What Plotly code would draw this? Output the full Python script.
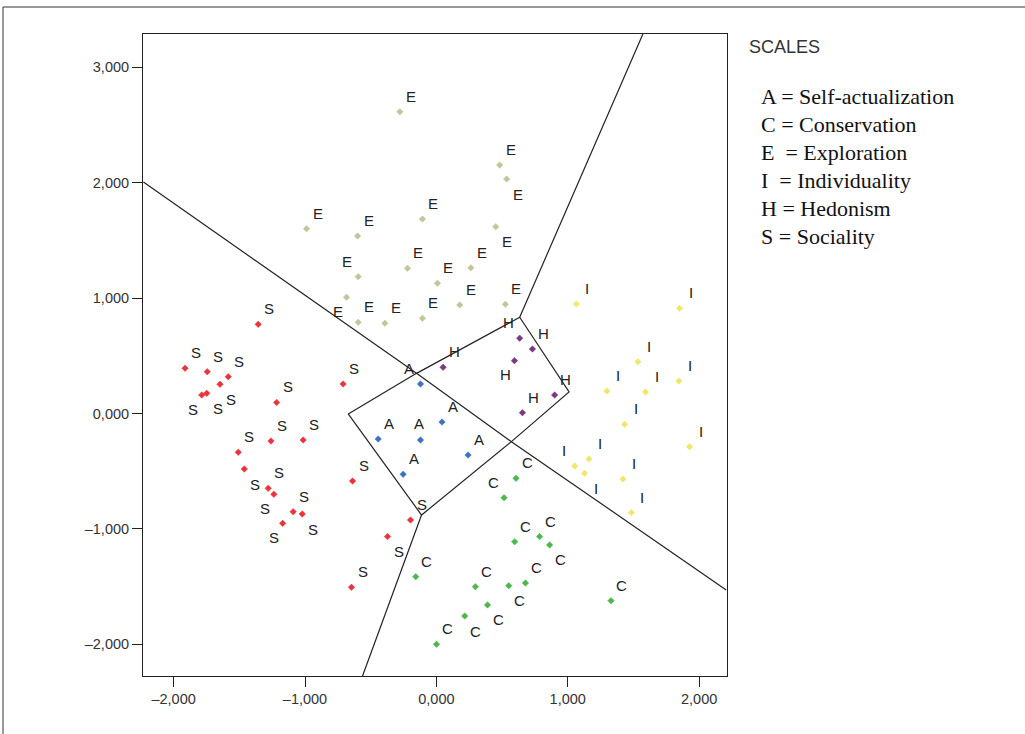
import plotly.graph_objects as go

# ---------------- data (thousands, comma-decimal ticks) ----------------
E_x = [-0.278, -0.988, -0.600, -0.106, 0.482, 0.535, 0.452, -0.595, -0.220, -0.684,
       -0.595, -0.392, -0.106, 0.008, 0.262, 0.178, 0.525]
E_y = [2.615, 1.601, 1.538, 1.685, 2.153, 2.032, 1.619, 1.186, 1.258, 1.007,
       0.790, 0.782, 0.825, 1.128, 1.263, 0.940, 0.946]
E_pos = ["tr", "tr", "tr", "tr", "tr", "br", "br", "tl", "tr", "bl",
         "tr", "tr", "tr", "tr", "tr", "tr", "tr"]

H_x = [0.051, 0.634, 0.731, 0.594, 0.900, 0.655]
H_y = [0.400, 0.652, 0.559, 0.458, 0.160, 0.007]
H_pos = ["tr", "tl", "tr", "bl", "tr", "tr"]

A_x = [-0.121, 0.043, -0.121, -0.443, 0.241, -0.253]
A_y = [0.256, -0.074, -0.230, -0.221, -0.360, -0.527]
A_pos = ["tl", "tr", "tc", "tr", "tr", "tr"]

I_x = [1.065, 1.851, 1.534, 1.846, 1.298, 1.592, 1.433, 1.927, 1.052, 1.161, 1.128, 1.420, 1.484]
I_y = [0.949, 0.912, 0.449, 0.282, 0.195, 0.186, -0.094, -0.288, -0.455, -0.394, -0.518, -0.568, -0.859]
I_pos = ["tr", "tr", "tr", "tr", "tr", "tr", "tr", "tr", "tl", "tr", "br", "tr", "tr"]

C_x = [0.606, 0.515, -0.157, 0.596, 0.786, 0.862, 0.297, 0.551, 0.678, 0.389, 0.216, 0.001, 1.329]
C_y = [-0.562, -0.730, -1.414, -1.111, -1.067, -1.139, -1.501, -1.492, -1.469, -1.659, -1.755, -2.000, -1.622]
C_pos = ["tr", "tl", "tr", "tr", "tr", "br", "tr", "br", "tr", "br", "br", "tr", "tr"]

S_x = [-1.356, -1.913, -1.744, -1.584, -1.647, -1.748, -1.786, -1.216, -0.710, -1.259, -1.014,
       -1.508, -1.462, -1.280, -1.237, -1.090, -1.021, -1.170, -0.638, -0.197, -0.372, -0.646]
S_y = [0.773, 0.392, 0.362, 0.319, 0.253, 0.175, 0.160, 0.096, 0.256, -0.238, -0.230,
       -0.336, -0.481, -0.648, -0.700, -0.851, -0.871, -0.952, -0.585, -0.923, -1.067, -1.506]
S_pos = ["tr", "tr", "tr", "tr", "br", "br", "bl", "tr", "tr", "tr", "tr",
         "tr", "br", "tr", "bl", "tr", "br", "bl", "tr", "tr", "br", "tr"]

# territorial map boundaries (polyline vertices)
line1_x = [-2.230, -0.151, 0.571, 2.206]
line1_y = [2.006, 0.348, -0.244, -1.529]
line2_x = [-0.671, -0.151, 0.634, 1.572]
line2_y = [-0.004, 0.348, 0.834, 3.289]
line3_x = [0.634, 1.010, 0.571, -0.113, -0.671]
line3_y = [0.834, 0.187, -0.244, -0.880, -0.004]
line4_x = [-0.113, -0.562]
line4_y = [-0.880, -2.275]

x_ticks = [-2, -1, 0, 1, 2]
x_ticktext = ["\u20132,000", "\u20131,000", "0,000", "1,000", "2,000"]
y_ticks = [-2, -1, 0, 1, 2, 3]
y_ticktext = ["\u20132,000", "\u20131,000", "0,000", "1,000", "2,000", "3,000"]

legend_title = "SCALES"
legend_lines = ["A = Self-actualization", "C = Conservation", "E  = Exploration",
                "I  = Individuality", "H = Hedonism", "S = Sociality"]

groups = [
    ("E", E_x, E_y, E_pos, "#c2c598"),
    ("H", H_x, H_y, H_pos, "#7b3a7e"),
    ("A", A_x, A_y, A_pos, "#3a74bf"),
    ("I", I_x, I_y, I_pos, "#f0e66a"),
    ("C", C_x, C_y, C_pos, "#4cb84a"),
    ("S", S_x, S_y, S_pos, "#e8343c"),
]

# ---------------- figure ----------------
W, H = 1025, 734
L, R, T, B = 143, 727, 34, 676

fig = go.Figure()

for lx, ly in [(line1_x, line1_y), (line2_x, line2_y), (line3_x, line3_y), (line4_x, line4_y)]:
    fig.add_trace(go.Scatter(x=lx, y=ly, mode="lines",
                             line=dict(color="#222222", width=1.2),
                             hoverinfo="skip", showlegend=False))

offsets = {"tr": (11, 15.5), "tl": (-11, 15.5), "br": (11, -15), "bl": (-9, -14),
           "tc": (-1, 17), "bc": (0, -15)}

annotations = []
for letter, xs, ys, pos, col in groups:
    fig.add_trace(go.Scatter(x=xs, y=ys, mode="markers",
                             marker=dict(symbol="diamond", size=5, color=col,
                                         line=dict(color=col, width=0.5)),
                             name=letter, showlegend=False))
    for xv, yv, p in zip(xs, ys, pos):
        dx, dy = offsets[p]
        annotations.append(dict(x=xv, y=yv, xref="x", yref="y", text=letter,
                                showarrow=False, xanchor="center", yanchor="middle",
                                xshift=dx, yshift=dy,
                                font=dict(family="Arial", size=15, color="#222222")))


def px_x(p):
    return (p - L) / (R - L)


def px_y(p):
    return (B - p) / (B - T)


annotations.append(dict(x=px_x(747), y=px_y(47), xref="paper", yref="paper",
                        text=legend_title, showarrow=False, xanchor="left", yanchor="middle",
                        font=dict(family="Arial", size=18, color="#333333")))
for i, t in enumerate(legend_lines):
    annotations.append(dict(x=px_x(759), y=px_y(97 + i * 27.8), xref="paper", yref="paper",
                            text=t, showarrow=False, xanchor="left", yanchor="middle",
                            font=dict(family="Liberation Serif, Times New Roman, serif",
                                      size=22, color="#111111")))

axis_common = dict(showgrid=False, zeroline=False, showline=True, linecolor="#222222",
                   linewidth=1, mirror=True, ticks="outside", ticklen=10, tickcolor="#222222",
                   tickfont=dict(family="Arial", size=14.5, color="#333333"))

fig.update_layout(
    width=W, height=H,
    margin=dict(l=L, r=W - R, t=T, b=H - B, pad=0),
    paper_bgcolor="white", plot_bgcolor="white",
    xaxis=dict(range=[-2.233, 2.212], tickvals=x_ticks, ticktext=x_ticktext, **axis_common),
    yaxis=dict(range=[-2.275, 3.289], tickvals=y_ticks, ticktext=y_ticktext, **axis_common),
    annotations=annotations,
    shapes=[dict(type="rect", xref="paper", yref="paper",
                 x0=px_x(3), x1=px_x(1040), y0=px_y(750), y1=px_y(7),
                 line=dict(color="#333333", width=1), layer="below")],
    showlegend=False,
)

fig.write_html("out.html", config={"displayModeBar": False},
               post_script="document.body.style.margin='0px';document.body.style.overflow='hidden';")
